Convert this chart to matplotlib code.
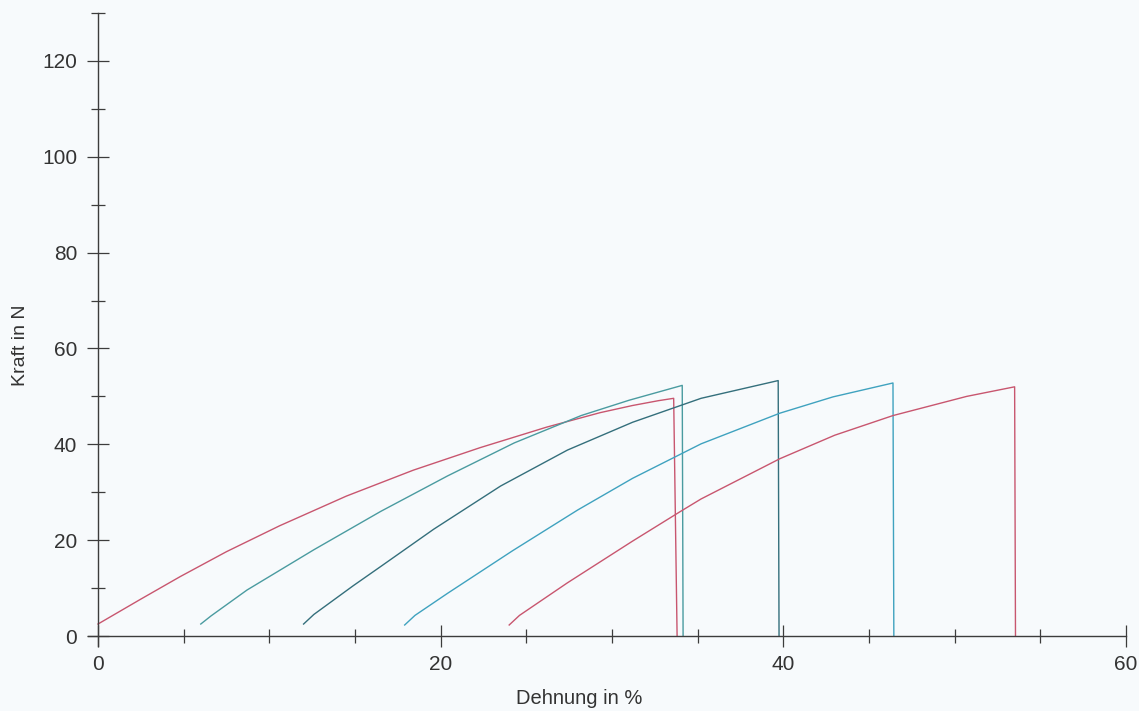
import matplotlib
matplotlib.use("Agg")
import matplotlib.pyplot as plt
from matplotlib.ticker import MultipleLocator

plt.rcParams['font.family'] = ['Liberation Sans', 'DejaVu Sans']

# ---- data (Dehnung in %, Kraft in N) ----
x1 = [0, 2.5, 4.8, 7.5, 10.6, 14.5, 18.4, 22.3, 26.2, 29.3, 31.2, 32.7, 33.6, 33.8]
y1 = [2.5, 7.7, 12.4, 17.6, 23.0, 29.2, 34.6, 39.3, 43.6, 46.6, 48.1, 49.1, 49.6, 0]

x2 = [6.0, 6.6, 8.7, 12.6, 16.5, 20.4, 24.3, 28.2, 31.0, 34.1, 34.15]
y2 = [2.5, 4.2, 9.6, 18.0, 26.0, 33.4, 40.3, 46.0, 49.2, 52.3, 0]

x3 = [12.0, 12.6, 14.9, 16.5, 19.6, 23.5, 27.4, 31.2, 35.2, 39.7, 39.75]
y3 = [2.5, 4.5, 10.5, 14.5, 22.3, 31.3, 38.8, 44.6, 49.6, 53.3, 0]

x4 = [17.9, 18.5, 20.4, 24.2, 28.0, 31.2, 35.2, 39.8, 42.9, 46.4, 46.45]
y4 = [2.3, 4.3, 8.9, 17.8, 26.3, 32.9, 40.1, 46.5, 49.9, 52.8, 0]

x5 = [24.0, 24.6, 27.4, 31.2, 34.0, 35.2, 39.8, 43.0, 46.4, 50.7, 53.5, 53.55]
y5 = [2.3, 4.3, 11.1, 19.8, 26.0, 28.6, 37.0, 41.9, 46.0, 50.0, 52.0, 0]

curves = [(x1, y1), (x2, y2), (x3, y3), (x4, y4), (x5, y5)]
colors = ['#c8566f', '#4a9ba0', '#346f7c', '#3fa2bf', '#c8566f']

x_ticks_labeled = [0, 20, 40, 60]
y_ticks_labeled = [0, 20, 40, 60, 80, 100, 120]

BG = '#f7fafc'
AX = '#3c3c3c'

fig = plt.figure(figsize=(11.39, 7.11), dpi=100, facecolor=BG)
# axes region: x from -0.6 to 60, y from -2 to 130
ax = fig.add_axes([87.7 / 1139, (711 - 645.6) / 711, (1126 - 87.7) / 1139, (645.6 - 13) / 711])
ax.set_facecolor(BG)

for (xs, ys), c in zip(curves, colors):
    ax.plot(xs, ys, color=c, lw=1.0, solid_joinstyle='round')

ax.set_xlim(-0.6, 60)
ax.set_ylim(-2, 130)

for s in ['top', 'right']:
    ax.spines[s].set_visible(False)
ax.spines['left'].set_position(('data', 0))
ax.spines['bottom'].set_position(('data', 0))
for s in ['left', 'bottom']:
    ax.spines[s].set_color(AX)
    ax.spines[s].set_linewidth(1.0)

ax.set_xticks(x_ticks_labeled)
ax.set_yticks(y_ticks_labeled)
ax.xaxis.set_minor_locator(MultipleLocator(5))
ax.yaxis.set_minor_locator(MultipleLocator(10))

ax.tick_params(which='major', direction='inout', length=16, width=0.9, color=AX,
               labelsize=15, labelcolor='#333333')
ax.tick_params(which='minor', direction='inout', length=10, width=0.9, color=AX)
ax.tick_params(axis='x', which='major', pad=6)
ax.tick_params(axis='y', which='major', pad=7)

ax.set_xlabel('Dehnung in %', fontsize=14.5, color='#333333')
ax.set_ylabel('Kraft in N', fontsize=14, color='#333333')
ax.xaxis.set_label_coords(0.473, -0.068)
ax.yaxis.set_label_coords(-0.057, 0.474)

fig.savefig('out.png', dpi=100, facecolor=BG)
